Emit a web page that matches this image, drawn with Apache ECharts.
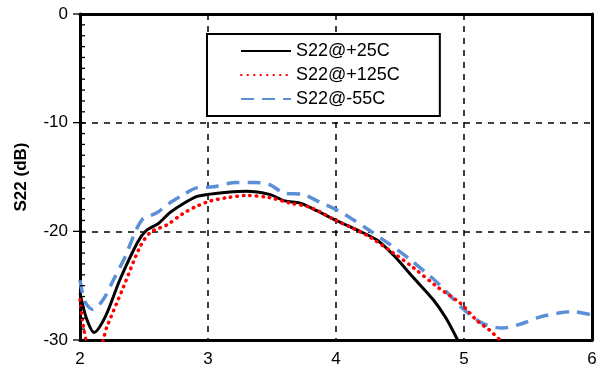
<!DOCTYPE html>
<html>
<head>
<meta charset="utf-8">
<script src="https://cdn.jsdelivr.net/npm/echarts@6/dist/echarts.min.js"></script>
<style>
html, body { margin: 0; padding: 0; background: #fff; }
#chartDiv { width: 609px; height: 377px; }
</style>
</head>
<body>
<div id="chartDiv"></div>
<script>
// S22 vs frequency (GHz)
var seriesNames = ['S22@+25C', 'S22@+125C', 'S22@-55C'];

var freq25 = [2.0, 2.05, 2.11, 2.2, 2.31, 2.45, 2.52, 2.61, 2.7, 2.8, 2.91, 3.0, 3.15, 3.3, 3.48, 3.6, 3.72, 3.85, 4.0, 4.15, 4.32, 4.45, 4.6, 4.76, 4.86, 4.95];
var s22_25 = [-25.7, -28.0, -29.3, -27.8, -24.5, -21.0, -19.9, -19.3, -18.3, -17.5, -16.8, -16.6, -16.4, -16.3, -16.6, -17.2, -17.4, -18.1, -19.0, -19.8, -20.8, -22.2, -24.2, -26.3, -28.0, -30.0];

var freq125 = [2.0, 2.03, 2.08, 2.14, 2.21, 2.34, 2.47, 2.55, 2.68, 2.8, 2.91, 3.02, 3.15, 3.3, 3.48, 3.64, 3.8, 4.0, 4.13, 4.26, 4.45, 4.6, 4.79, 4.97, 5.1, 5.2, 5.3];
var s22_125 = [-26.3, -29.0, -31.0, -31.0, -28.8, -25.1, -21.4, -20.1, -19.4, -18.4, -17.7, -17.2, -16.9, -16.7, -16.9, -17.4, -17.8, -19.0, -19.7, -20.5, -22.0, -23.3, -25.1, -26.6, -28.2, -29.1, -30.2];

var freqM55 = [2.0, 2.04, 2.1, 2.18, 2.26, 2.35, 2.48, 2.6, 2.7, 2.8, 2.91, 3.04, 3.22, 3.35, 3.48, 3.6, 3.74, 3.87, 4.0, 4.13, 4.26, 4.42, 4.58, 4.79, 5.0, 5.15, 5.3, 5.45, 5.59, 5.75, 5.85, 6.0];
var s22_m55 = [-24.5, -26.5, -27.2, -26.3, -24.5, -22.4, -19.0, -18.3, -17.4, -16.7, -16.0, -15.9, -15.5, -15.5, -15.7, -16.5, -16.6, -17.3, -18.0, -18.9, -19.9, -21.2, -22.6, -24.7, -27.2, -28.5, -28.9, -28.5, -27.9, -27.5, -27.4, -27.7];

// y tick values (1 dB minor, 10 dB major)
var yTicks = [];
for (var t = -30; t <= 0; t++) {
    yTicks.push(t);
}

function zipXY(xs, ys) {
    var out = [];
    for (var i = 0; i < xs.length; i++) {
        out.push([xs[i], ys[i]]);
    }
    return out;
}

var font = 'Liberation Sans, Arial, sans-serif';
var frameLine = { show: true, onZero: false, lineStyle: { color: '#000', width: 3 } };
var dashGrid = { show: true, lineStyle: { color: '#000', type: [6, 6], width: 1.5 } };

// left-axis ticks: minor ones point inside, major ones stick out
function renderTick(params, api) {
    var v = api.value(1);
    var p = api.coord([2, v]);
    var major = (v % 10 === 0);
    return {
        type: 'line',
        shape: major ? { x1: p[0] - 7, y1: p[1], x2: p[0] + 5, y2: p[1] }
                     : { x1: p[0], y1: p[1], x2: p[0] + 5, y2: p[1] },
        style: { stroke: '#000', lineWidth: 1.3 }
    };
}

var option = {
    animation: false,
    backgroundColor: '#fff',
    grid: { left: 80, right: 17, top: 14, bottom: 37 },
    legend: {
        orient: 'vertical',
        left: 207, top: 34,
        padding: [8, 40, 8, 33],
        itemGap: 6,
        itemWidth: 50, itemHeight: 14,
        borderColor: '#000', borderWidth: 2,
        backgroundColor: '#fff',
        itemStyle: { opacity: 0 },
        textStyle: { fontFamily: font, fontSize: 18, color: '#000' },
        data: seriesNames
    },
    xAxis: [{
        type: 'value', min: 2, max: 6, interval: 1, position: 'bottom',
        axisLine: frameLine,
        axisTick: { show: false },
        axisLabel: { fontFamily: font, fontSize: 17, color: '#000', margin: 11 },
        splitLine: dashGrid
    }, {
        type: 'value', min: 2, max: 6, interval: 1, position: 'top',
        axisLine: frameLine,
        axisTick: { show: false },
        axisLabel: { show: false },
        splitLine: { show: false }
    }],
    yAxis: [{
        type: 'value', min: -30, max: 0, interval: 10, position: 'left',
        name: 'S22 (dB)', nameLocation: 'middle', nameGap: 50,
        nameTextStyle: { fontFamily: font, fontSize: 17, fontWeight: 'bold', color: '#000' },
        axisLine: frameLine,
        axisTick: { show: false },
        axisLabel: { fontFamily: font, fontSize: 17, color: '#000', margin: 12 },
        splitLine: dashGrid
    }, {
        type: 'value', min: -30, max: 0, interval: 10, position: 'right',
        axisLine: frameLine,
        axisTick: { show: false },
        axisLabel: { show: false },
        splitLine: { show: false }
    }],
    series: [{
        name: 'ticks', type: 'custom', clip: false, silent: true, z: 6,
        renderItem: renderTick,
        data: yTicks.map(function (v) { return [2, v]; })
    }, {
        name: seriesNames[0], type: 'line', smooth: 0.3, showSymbol: false, symbol: 'none',
        z: 4,
        lineStyle: { color: '#000', width: 3 },
        itemStyle: { color: '#000' },
        data: zipXY(freq25, s22_25)
    }, {
        name: seriesNames[1], type: 'line', smooth: 0.3, showSymbol: false, symbol: 'none',
        z: 5,
        lineStyle: { color: '#ff0000', width: 3.5, type: [0.5, 6], cap: 'round' },
        itemStyle: { color: '#ff0000' },
        data: zipXY(freq125, s22_125)
    }, {
        name: seriesNames[2], type: 'line', smooth: 0.3, showSymbol: false, symbol: 'none',
        z: 3,
        lineStyle: { color: '#5b8fd6', width: 3.5, type: [13, 8] },
        itemStyle: { color: '#5b8fd6' },
        data: zipXY(freqM55, s22_m55)
    }]
};

var myChart = echarts.init(document.getElementById('chartDiv'));
myChart.setOption(option);
</script>
</body>
</html>
